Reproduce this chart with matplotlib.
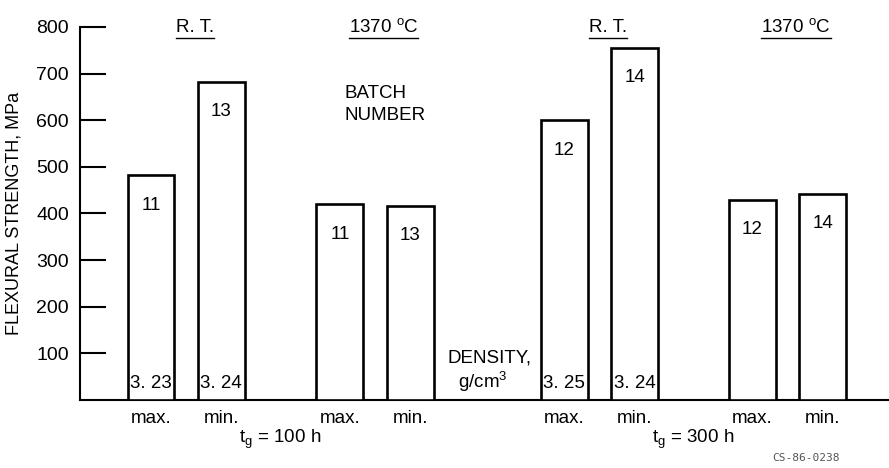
import matplotlib
matplotlib.use('Agg')
import matplotlib.pyplot as plt

plt.rcParams['font.family'] = ['Liberation Sans', 'DejaVu Sans']
plt.rcParams['mathtext.default'] = 'regular'

# data
conditions = ['R. T.', '1370 $^{o}$C', 'R. T.', '1370 $^{o}$C']
bar_kind = ['max.', 'min.', 'max.', 'min.', 'max.', 'min.', 'max.', 'min.']
strength = [482, 682, 420, 416, 600, 755, 430, 442]  # MPa
batch = ['11', '13', '11', '13', '12', '14', '12', '14']
density = ['3. 23', '3. 24', '', '', '3. 25', '3. 24', '', '']
times = ['t$_g$ = 100 h', 't$_g$ = 300 h']

group_start = [1.0, 3.66, 6.82, 9.47]
xs = []
for g in group_start:
    xs += [g, g + 0.99]
width = 0.66
fs = 13.5

fig = plt.figure(figsize=(8.89, 4.68), dpi=100)
ax = fig.add_axes([80 / 889, 68 / 468, 809 / 889, 373 / 468])
ax.bar(xs, strength, width=width, color='white', edgecolor='black', linewidth=1.9, zorder=3)
ax.set_xlim(0, 809 / 71)
ax.set_ylim(0, 800)

for s in ['top', 'right']:
    ax.spines[s].set_visible(False)
ax.spines['left'].set_linewidth(1.5)
ax.spines['bottom'].set_linewidth(1.5)
ax.set_xticks([])
ax.set_yticks(range(100, 900, 100))
ax.tick_params(axis='y', direction='in', length=19, width=1.5, pad=8, labelsize=14)
ax.set_ylabel('FLEXURAL STRENGTH, MPa', fontsize=13, labelpad=10)

# numbers in the bars
for x, h, b, d in zip(xs, strength, batch, density):
    ax.text(x, h - 64, b, ha='center', va='center', fontsize=fs, zorder=4)
    if d:
        ax.text(x, 35, d, ha='center', va='center', fontsize=fs, zorder=4)

# labels below the bars
for x, k in zip(xs, bar_kind):
    ax.text(x, -40, k, ha='center', va='center', fontsize=fs, clip_on=False)

for i, t in enumerate(times):
    c = (xs[4 * i] + xs[4 * i + 3]) / 2
    ax.text(c, -84, t, ha='center', va='center', fontsize=fs, clip_on=False)

# test condition headers, underlined to the text width
fig.canvas.draw()
r = fig.canvas.get_renderer()
inv = ax.transData.inverted()
for i, c in enumerate(conditions):
    cx = (xs[2 * i] + xs[2 * i + 1]) / 2 + 0.12
    t = ax.text(cx, 789, c, ha='center', va='baseline', fontsize=fs, clip_on=False)
    bb = t.get_window_extent(r)
    x0 = inv.transform((bb.x0, 0))[0]
    x1 = inv.transform((bb.x1, 0))[0]
    ax.plot([x0, x1], [777, 777], color='black', lw=1.0, clip_on=False)

ax.text(3.72, 633, 'BATCH\nNUMBER', ha='left', va='center', fontsize=fs, linespacing=1.4)
ax.text(5.17, 90, 'DENSITY,', ha='left', va='center', fontsize=fs)
ax.text(5.32, 38, 'g/cm$^3$', ha='left', va='center', fontsize=fs)

fig.text(772 / 889, 1 - 458 / 468, 'CS-86-0238', fontsize=8, color='#555555',
         family='DejaVu Sans Mono', va='center')

fig.savefig('out.png', dpi=100)
